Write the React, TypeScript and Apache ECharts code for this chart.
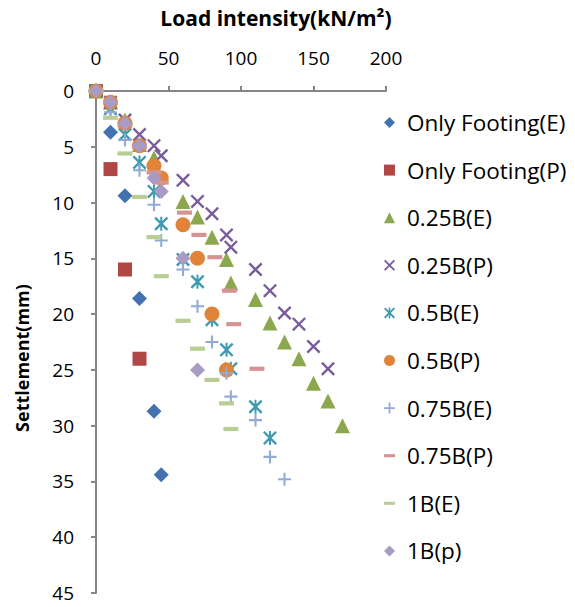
import React, { useEffect, useRef } from "react";
import * as echarts from "echarts";

const seriesNames = [
  "Only Footing(E)",
  "Only Footing(P)",
  "0.25B(E)",
  "0.25B(P)",
  "0.5B(E)",
  "0.5B(P)",
  "0.75B(E)",
  "0.75B(P)",
  "1B(E)",
  "1B(p)",
];

const onlyFootingE = [[0, 0], [10, 3.7], [20, 9.4], [30, 18.6], [40, 28.7], [45, 34.4]];
const onlyFootingP = [[0, 0], [10, 7], [20, 16], [30, 24]];
const b025E = [[0, 0], [10, 1], [20, 2.6], [30, 4.8], [40, 6], [60, 9.9], [70, 11.3], [80, 13.1], [90, 15.1], [93, 17.2], [110, 18.7], [120, 20.8], [130, 22.5], [140, 24], [150, 26.2], [160, 27.8], [170, 30]];
const b025P = [[0, 0], [10, 1], [20, 2.6], [30, 3.9], [40, 4.9], [45, 5.8], [60, 8], [70, 9.9], [80, 11], [90, 12.9], [93, 14], [110, 16], [120, 17.9], [130, 19.9], [140, 20.9], [150, 22.9], [160, 24.9]];
const b05E = [[0, 0], [10, 1.6], [20, 3.9], [30, 6.4], [40, 9.0], [45, 11.9], [60, 15.1], [70, 17.1], [80, 20.5], [90, 23.2], [93, 24.9], [110, 28.3], [120, 31.1]];
const b05P = [[0, 0], [10, 1], [20, 2.9], [30, 4.9], [40, 6.7], [45, 7.8], [60, 12], [70, 15], [80, 20], [90, 25]];
const b075E = [[0, 0], [10, 1.9], [20, 4.4], [30, 7.1], [40, 10.2], [45, 13.4], [60, 16], [70, 19.3], [80, 22.5], [90, 25.3], [93, 27.4], [110, 29.5], [120, 32.8], [130, 34.8]];
const b075P = [[0, 0], [10, 1], [20, 3], [30, 5], [40, 7.3], [45, 8.2], [61, 10.9], [71, 12.9], [82, 14.9], [92, 17.9], [95, 20.9], [111, 24.9]];
const b1E = [[0, 0], [10, 2.4], [20, 5.6], [30, 9.5], [40, 13.1], [45, 16.6], [60, 20.6], [70, 23.1], [80, 25.9], [90, 28], [93, 30.3]];
const b1p = [[0, 0], [10, 1], [20, 2.9], [30, 4.9], [40, 7.8], [45, 9], [60, 15], [70, 25]];

const xTicks = [0, 50, 100, 150, 200];
const yTicks = [0, 5, 10, 15, 20, 25, 30, 35, 40, 45];

const seriesData = [onlyFootingE, onlyFootingP, b025E, b025P, b05E, b05P, b075E, b075P, b1E, b1p];
const colors = ["#4472B0", "#B04745", "#8BA84E", "#7A5C9C", "#3E9AB0", "#E0843A", "#93AAD4", "#D59493", "#B9CE95", "#A99BC4"];

const X_PATH = "path://M0,1.2 L1.2,0 L10,8.8 L8.8,10 Z M10,1.2 L1.2,10 L0,8.8 L8.8,0 Z";
const STAR_PATH = "path://M0,1.2 L1.2,0 L10,8.8 L8.8,10 Z M10,1.2 L1.2,10 L0,8.8 L8.8,0 Z M4.3,0 L5.7,0 L5.7,10 L4.3,10 Z";
const PLUS_PATH = "path://M4.2,0 L5.8,0 L5.8,10 L4.2,10 Z M0,4.2 L10,4.2 L10,5.8 L0,5.8 Z";
const DASH_PATH = "path://M0,0 M10,10 M0,3.6 L10,3.6 L10,6.4 L0,6.4 Z";

const symbols = ["diamond", "rect", "triangle", X_PATH, STAR_PATH, "circle", PLUS_PATH, DASH_PATH, DASH_PATH, "diamond"];
const sizes = [15, 14, 15, 14, 14, 15, 13, 15, 15, 15];

const FONT = "Open Sans";

export default function App() {
  const ref = useRef<HTMLDivElement>(null);
  useEffect(() => {
    if (!ref.current) return;
    const chart = echarts.init(ref.current, undefined, { renderer: "svg" });
    const axisColor = "#868686";
    chart.setOption({
      animation: false,
      backgroundColor: "#ffffff",
      textStyle: { fontFamily: FONT },
      grid: { left: 96, top: 91, width: 290, height: 502, containLabel: false },
      xAxis: {
        type: "value",
        position: "top",
        min: xTicks[0],
        max: xTicks[xTicks.length - 1],
        interval: 50,
        splitLine: { show: false },
        axisLine: { show: true, lineStyle: { color: axisColor, width: 2 } },
        axisTick: { show: true, length: 5, lineStyle: { color: axisColor, width: 2 } },
        axisLabel: { color: "#000", fontSize: 19, fontFamily: FONT, margin: 24 },
      },
      yAxis: {
        type: "value",
        inverse: true,
        min: yTicks[0],
        max: yTicks[yTicks.length - 1],
        interval: 5,
        splitLine: { show: false },
        axisLine: { show: true, onZero: false, lineStyle: { color: axisColor, width: 2 } },
        axisTick: { show: true, length: 5, lineStyle: { color: axisColor, width: 2 } },
        axisLabel: { color: "#000", fontSize: 19, fontFamily: FONT, margin: 22 },
      },
      legend: {
        orient: "vertical",
        left: 379,
        top: 106,
        itemWidth: 11,
        itemHeight: 11,
        itemGap: 24.6,
        data: seriesNames,
        textStyle: { color: "#000", fontSize: 22.5, fontFamily: FONT, lineHeight: 23, padding: [0, 0, 0, 7] },
      },
      graphic: [
        {
          type: "text",
          x: 276,
          y: 18,
          style: {
            text: "Load intensity(kN/m²)",
            fontSize: 21,
            fontWeight: "bold",
            fontFamily: FONT,
            fill: "#000",
            align: "center",
            verticalAlign: "middle",
          },
        },
        {
          type: "text",
          x: 22,
          y: 358,
          rotation: Math.PI / 2,
          style: {
            text: "Settlement(mm)",
            fontSize: 18,
            fontWeight: "bold",
            fontFamily: FONT,
            fill: "#000",
            align: "center",
            verticalAlign: "middle",
          },
        },
      ],
      series: seriesNames.map((name, i) => ({
        name,
        type: "scatter",
        data: seriesData[i],
        symbol: symbols[i],
        symbolSize: sizes[i],
        itemStyle: { color: colors[i], opacity: 1 },
        emphasis: { disabled: true },
      })),
    });
    return () => chart.dispose();
  }, []);
  return <div ref={ref} style={{ position: "fixed", left: 0, top: 0, width: 575, height: 607 }} />;
}
